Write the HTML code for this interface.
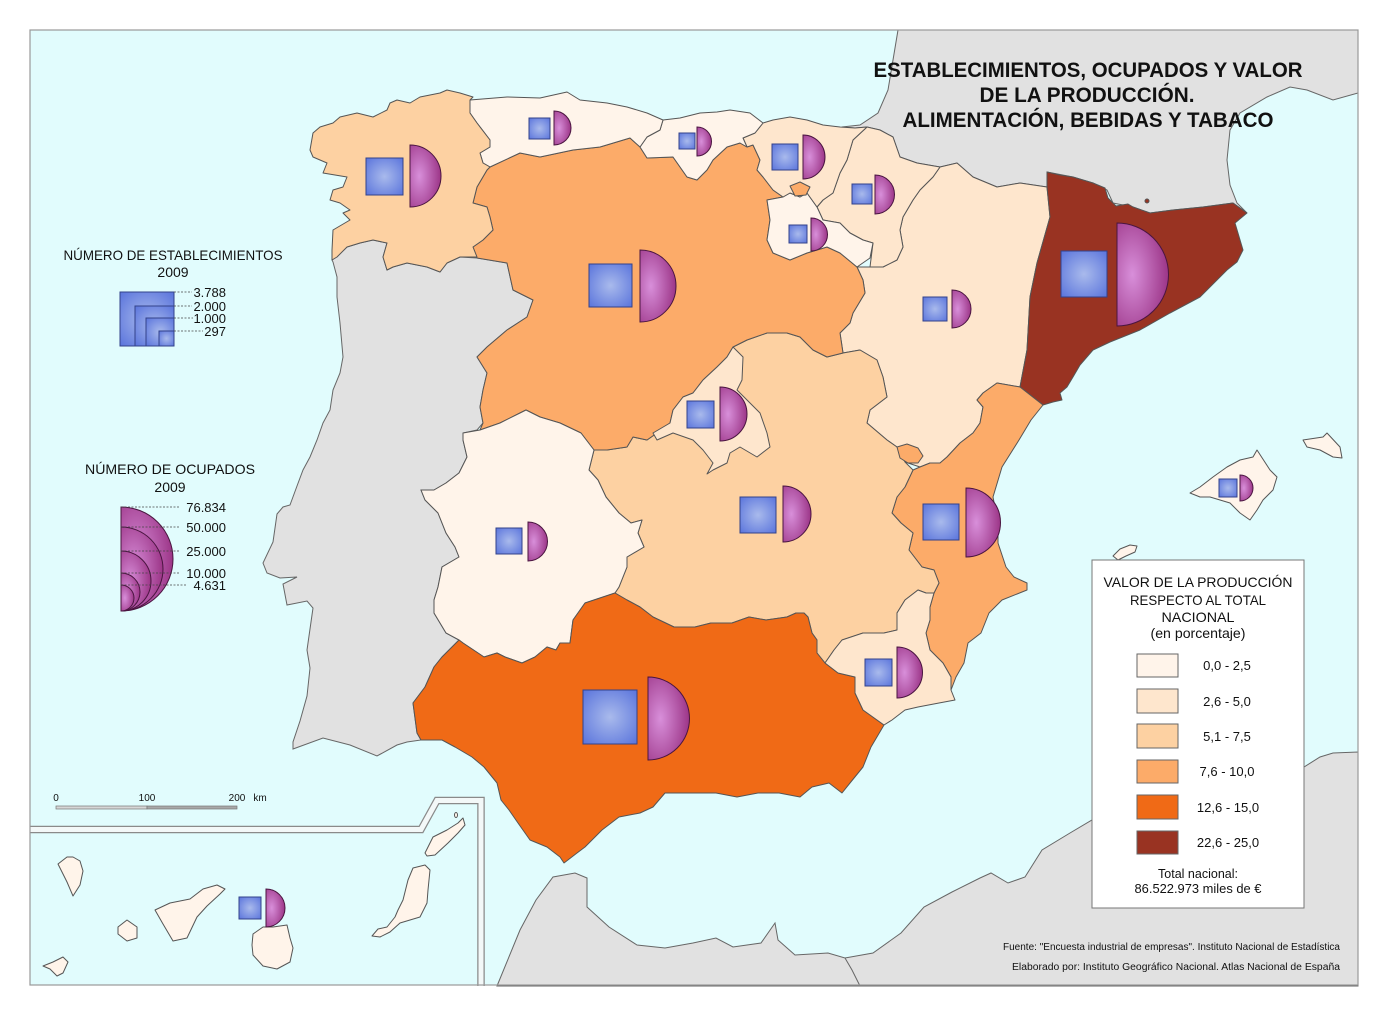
<!DOCTYPE html>
<html><head><meta charset="utf-8"><style>
html,body{margin:0;padding:0;background:#fff;}
svg{display:block;}
text{font-family:"Liberation Sans",sans-serif;fill:#111;}
</style></head><body>
<svg width="1388" height="1016" viewBox="0 0 1388 1016" xmlns="http://www.w3.org/2000/svg">
<defs>
<radialGradient id="sq" cx="0.5" cy="0.5" r="0.7"><stop offset="0" stop-color="#a9baec"/><stop offset="1" stop-color="#5a74dc"/></radialGradient>
<radialGradient id="hc" cx="0.3" cy="0.5" r="0.8"><stop offset="0" stop-color="#d88fda"/><stop offset="1" stop-color="#93287b"/></radialGradient>
</defs>
<rect x="0" y="0" width="1388" height="1016" fill="#fff"/>
<rect x="30" y="30" width="1328" height="955" fill="#e1fcfd"/>

<!-- gray lands -->
<g fill="#e1e1e1" stroke="#666" stroke-width="1">
<polygon points="898,30 893,60 888,90 878,113 860,125 842,127 855,128 867,127 880,130 893,137 900,157 917,163 940,167 957,163 973,177 997,187 1020,183 1047,187 1047,172 1073,177 1093,183 1107,190 1113,203 1133,207 1150,213 1173,210 1203,207 1233,203 1247,213 1237,203 1230,185 1227,160 1230,130 1240,113 1267,97 1290,87 1307,90 1333,100 1358,93 1358,30"/>
<polygon points="332,260 347,247 360,243 373,240 387,243 383,257 387,270 393,267 407,263 427,267 440,272 447,263 460,257 477,258 507,263 513,290 533,300 527,317 507,330 487,347 477,357 487,373 483,390 480,407 483,423 477,430 463,433 463,440 467,457 459,473 446,483 434,490 421,490 425,500 438,513 446,533 455,547 459,557 442,567 438,587 434,600 434,613 446,633 459,640 442,657 434,667 425,687 413,703 417,733 421,740 407,742 397,745 377,756 350,745 323,738 293,749 293,742 300,721 307,696 310,668 307,650 310,629 313,608 307,601 287,605 283,584 297,577 280,578 267,573 263,563 273,542 277,514 283,507 290,505 297,486 303,470 310,457 317,440 323,423 330,410 333,390 340,373 343,357 340,323 337,297 337,277 333,262"/>
<polygon points="497,986 520,930 536,900 553,877 575,873 587,878 587,907 609,927 637,945 665,948 693,943 716,938 733,947 761,943 775,923 778,940 795,955 828,953 845,958 873,953 901,933 924,907 952,892 980,878 991,873 1008,883 1025,877 1042,850 1070,833 1092,820 1150,800 1250,775 1304,767 1320,757 1333,753 1358,752 1358,986"/>
<polyline points="845,958 852,970 860,986" fill="none"/>
</g>

<!-- Spanish regions -->
<g stroke="#555" stroke-width="1" stroke-linejoin="round">
<!-- Aragon -->
<polygon fill="#fee6cd" points="940,167 957,163 973,177 997,187 1020,183 1047,187 1050,217 1037,263 1030,297 1027,350 1020,387 997,383 983,393 977,400 983,407 980,423 973,433 960,443 947,457 940,463 930,463 920,467 905,462 897,447 887,440 867,423 870,410 887,397 883,377 877,360 860,350 843,353 840,333 850,323 853,313 865,293 863,280 857,267 870,267 883,267 897,260 903,247 900,230 903,217 913,200 920,190 933,177"/>
<!-- Catalonia -->
<polygon fill="#993322" points="1047,172 1060,175 1073,177 1093,183 1105,188 1108,198 1116,206 1128,204 1133,207 1150,213 1173,210 1203,207 1233,203 1247,213 1235,223 1243,250 1237,262 1227,270 1200,297 1170,313 1140,330 1110,342 1093,350 1080,365 1073,377 1067,387 1060,393 1062,400 1053,402 1043,405 1020,387 1027,350 1030,297 1037,263 1050,217 1047,187"/>
<!-- Valencia -->
<polygon fill="#fcab69" points="1043,405 1020,387 997,383 983,393 977,400 983,407 980,423 973,433 960,443 947,457 940,463 930,463 920,467 913,470 905,487 897,497 892,513 901,523 913,533 909,550 922,567 934,570 939,583 934,593 930,607 930,620 926,633 930,650 943,663 951,677 951,690 956,677 964,663 968,643 981,633 989,613 1002,600 1027,590 1027,583 1014,577 1006,567 998,543 998,523 993,497 1002,467 1019,440 1031,420"/>
<!-- Castilla-La Mancha -->
<polygon fill="#fdd1a2" points="594,450 607,450 627,447 633,437 647,440 657,433 670,423 673,410 683,397 693,393 703,380 717,367 727,357 733,347 747,340 767,333 787,333 800,337 813,350 827,357 843,353 860,350 877,360 883,377 887,397 870,410 867,423 887,440 897,447 905,462 913,470 905,487 897,497 892,513 901,523 913,533 909,550 922,567 934,570 939,583 934,593 926,593 918,590 905,600 897,613 897,630 884,633 863,633 842,640 834,650 825,663 817,653 817,640 812,633 808,617 804,613 796,613 787,617 766,620 749,617 732,623 711,623 695,627 674,627 653,617 640,607 627,600 615,593 619,587 627,567 627,557 644,547 638,533 642,520 631,523 619,513 606,497 598,480 589,470"/>
<!-- Ademuz -->
<polygon fill="#fcab69" points="897,447 907,444 918,448 923,456 918,463 908,463 900,458"/>
<!-- Castilla y Leon -->
<polygon fill="#fcab69" points="630,138 640,147 647,158 673,157 687,177 697,180 707,170 713,160 727,147 740,143 747,147 753,145 760,160 757,170 763,177 773,190 783,197 767,200 770,220 767,240 773,253 790,260 807,253 827,247 840,253 857,267 863,280 865,293 853,313 850,323 840,333 843,353 827,357 813,350 800,337 787,333 767,333 747,340 733,347 727,357 717,367 703,380 693,393 683,397 673,410 670,423 657,433 647,440 633,437 627,447 607,450 594,450 581,433 560,423 540,417 526,410 520,413 500,423 480,430 483,423 480,407 483,390 487,373 477,357 487,347 507,330 527,317 533,300 513,290 507,263 477,258 473,247 483,240 493,230 490,217 487,207 473,203 477,187 487,170 490,167 520,153 540,157 573,150 600,147"/>
<!-- Navarra -->
<polygon fill="#fee6cd" points="867,127 880,130 893,137 900,157 917,163 940,167 933,177 920,190 913,200 903,217 900,230 903,247 897,260 883,267 870,267 873,243 863,240 850,233 840,223 823,220 817,207 823,200 833,193 840,173 847,160 853,140"/>
<!-- La Rioja -->
<polygon fill="#fff4ea" points="767,200 783,197 790,193 800,197 807,193 817,207 823,220 840,223 850,233 863,240 873,243 870,258 857,267 840,253 827,247 807,253 790,260 773,253 767,240 770,220"/>
<!-- Pais Vasco -->
<polygon fill="#fee6cd" points="763,123 773,120 790,117 807,120 823,125 840,127 855,128 867,127 853,140 847,160 840,173 833,193 823,200 817,207 807,193 800,197 790,193 783,197 773,190 763,177 757,170 760,160 753,145 747,147 743,138 755,133"/>
<polygon fill="#fcab69" points="790,186 800,182 810,187 806,195 795,196"/>
<!-- Cantabria -->
<polygon fill="#fff4ea" points="663,120 680,118 700,113 717,112 730,110 750,113 763,123 755,133 743,138 747,147 740,143 727,147 713,160 707,170 697,180 687,177 673,157 647,158 640,147 647,137 660,130"/>
<!-- Asturias -->
<polygon fill="#fff4ea" points="470,100 507,97 540,98 567,92 580,100 607,103 627,107 647,113 663,120 660,130 647,137 640,147 630,138 600,147 573,150 540,157 520,153 490,167 483,163 480,153 490,147 490,140 477,123 470,113"/>
<!-- Galicia -->
<polygon fill="#fdd1a2" points="447,90 460,93 473,97 470,100 470,113 477,123 490,140 490,147 480,153 483,163 490,167 487,170 477,187 473,203 487,207 490,217 493,230 483,240 473,247 477,257 460,257 447,263 440,272 427,267 407,263 393,267 387,270 383,257 387,243 373,240 360,243 347,247 337,257 332,260 332,250 333,230 350,220 343,213 350,210 340,203 330,200 333,190 343,187 347,177 323,173 327,163 313,157 310,150 313,133 320,127 333,123 340,117 357,113 373,117 387,110 390,103 397,100 410,103 420,97 440,93"/>
<!-- Madrid -->
<polygon fill="#fee6cd" points="733,347 743,357 742,380 737,390 747,400 760,413 767,433 770,447 757,457 740,447 730,453 727,463 713,470 707,474 713,463 703,450 693,440 673,433 657,440 653,433 670,423 673,410 683,397 693,393 703,380 717,367 727,357"/>
<!-- Extremadura -->
<polygon fill="#fff4ea" points="463,433 480,430 500,423 520,413 526,410 540,417 560,423 581,433 594,450 589,470 598,480 606,497 619,513 631,523 642,520 638,533 644,547 627,557 627,567 619,587 615,593 585,603 573,620 570,643 560,643 556,650 547,647 535,657 522,663 505,657 497,653 484,657 463,643 459,640 446,633 434,613 434,600 438,587 442,567 459,557 455,547 446,533 438,513 425,500 421,490 434,490 446,483 459,473 467,457 463,440"/>
<!-- Andalucia -->
<polygon fill="#f06a16" points="459,640 463,643 484,657 497,653 505,657 522,663 535,657 547,647 556,650 560,643 570,643 573,620 585,603 615,593 627,600 640,607 653,617 674,627 695,627 711,623 732,623 749,617 766,620 787,617 796,613 804,613 808,617 812,633 817,640 817,653 825,663 838,673 855,677 855,693 863,710 884,725 871,747 863,767 850,783 842,793 829,783 812,787 800,797 779,793 758,793 737,797 716,793 695,793 665,793 653,807 640,813 619,817 602,830 585,847 577,853 564,863 560,857 547,847 530,840 518,823 509,810 501,800 497,783 484,767 472,757 455,747 442,740 421,740 417,733 413,703 425,687 434,667 442,657"/>
<!-- Murcia -->
<polygon fill="#fee6cd" points="825,663 834,650 842,640 863,633 884,633 897,630 897,613 905,600 918,590 926,593 934,593 930,607 930,620 926,633 930,650 943,663 951,677 951,690 955,700 939,703 918,707 905,710 892,720 884,725 863,710 855,693 855,677 838,673"/>
<!-- Baleares -->
<polygon fill="#fff4ea" points="1190,493 1200,487 1213,477 1227,467 1240,460 1253,457 1257,450 1270,470 1277,477 1273,490 1263,500 1257,510 1250,520 1240,513 1230,503 1220,500 1210,497 1200,497"/>
<polygon fill="#fff4ea" points="1303,440 1323,437 1327,433 1340,447 1342,458 1333,457 1320,450 1307,447"/>
<polygon fill="#fff4ea" points="1113,556 1120,549 1130,545 1137,546 1135,552 1126,556 1118,560"/>
<circle cx="1147" cy="201" r="2" fill="#993322"/>
<!-- Canarias -->
<polygon fill="#fff4ea" points="58,864 67,857 73,857 80,861 83,871 80,885 73,896 67,882"/>
<polygon fill="#fff4ea" points="43,966 53,962 63,957 68,962 63,973 57,976 50,969"/>
<polygon fill="#fff4ea" points="118,927 127,920 137,927 137,938 127,941 118,934"/>
<polygon fill="#fff4ea" points="155,910 170,903 190,899 203,889 217,885 225,889 220,894 207,906 197,917 187,938 173,941 163,924"/>
<polygon fill="#fff4ea" points="253,934 263,927 273,927 287,925 290,938 293,948 290,962 277,969 263,966 253,955 252,945"/>
<polygon fill="#fff4ea" points="413,868 425,865 430,870 428,890 427,903 420,917 410,920 400,923 390,932 380,937 372,936 378,929 387,927 395,917 398,910 403,900 408,880"/>
<polygon fill="#fff4ea" points="425,853 433,837 447,830 458,823 463,818 465,825 458,833 448,843 435,855 427,856"/>
<ellipse cx="456" cy="815" rx="1.5" ry="2.5" fill="#fff4ea"/>
</g>

<!-- inset band -->
<path d="M30,829.5 L421,829.5 L437,800.5 L481,800.5 L481,986" fill="none" stroke="#8a8a8a" stroke-width="7.5"/>
<path d="M30,829.5 L421,829.5 L437,800.5 L481,800.5 L481,986" fill="none" stroke="#f3f8f8" stroke-width="5"/>

<!-- symbols -->
<g stroke="#33428a" stroke-width="1" fill="url(#sq)">
<rect x="366" y="158" width="37" height="37"/>
<rect x="529" y="118" width="21" height="21"/>
<rect x="679" y="133" width="16" height="16"/>
<rect x="772" y="144" width="26" height="26"/>
<rect x="852" y="184" width="20" height="20"/>
<rect x="789" y="225" width="18" height="18"/>
<rect x="589" y="264" width="43" height="43"/>
<rect x="687" y="401" width="27" height="27"/>
<rect x="923" y="297" width="24" height="24"/>
<rect x="1061" y="251" width="46" height="46"/>
<rect x="923" y="504" width="36" height="36"/>
<rect x="1219" y="479" width="18" height="18"/>
<rect x="740" y="497" width="36" height="36"/>
<rect x="496" y="528" width="26" height="26"/>
<rect x="583" y="690" width="54" height="54"/>
<rect x="865" y="659" width="27" height="27"/>
<rect x="239" y="897" width="22" height="22"/>
</g>
<g stroke="#4a1540" stroke-width="1" fill="url(#hc)">
<path d="M410,145 A31,31 0 0 1 410,207 Z"/>
<path d="M554,111 A17,17 0 0 1 554,145 Z"/>
<path d="M697,127 A14.5,14.5 0 0 1 697,156 Z"/>
<path d="M803,135 A22,22 0 0 1 803,179 Z"/>
<path d="M875,175 A19.5,19.5 0 0 1 875,214 Z"/>
<path d="M811,218 A16.5,16.5 0 0 1 811,251 Z"/>
<path d="M640,250 A36,36 0 0 1 640,322 Z"/>
<path d="M720,387 A27,27 0 0 1 720,441 Z"/>
<path d="M952,290 A19,19 0 0 1 952,328 Z"/>
<path d="M1117,223 A51.5,51.5 0 0 1 1117,326 Z"/>
<path d="M966,488 A34.5,34.5 0 0 1 966,557 Z"/>
<path d="M1240,475 A13,13 0 0 1 1240,501 Z"/>
<path d="M783,486 A28,28 0 0 1 783,542 Z"/>
<path d="M528,522 A19.5,19.5 0 0 1 528,561 Z"/>
<path d="M648,677 A41.5,41.5 0 0 1 648,760 Z"/>
<path d="M897,647 A25.5,25.5 0 0 1 897,698 Z"/>
<path d="M266,889 A19,19 0 0 1 266,927 Z"/>
</g>

<!-- title -->
<g font-weight="bold" font-size="21" text-anchor="middle">
<text x="1088" y="77" textLength="429" lengthAdjust="spacingAndGlyphs">ESTABLECIMIENTOS, OCUPADOS Y VALOR</text>
<text x="1087" y="102" textLength="215" lengthAdjust="spacingAndGlyphs">DE LA PRODUCCIÓN.</text>
<text x="1088" y="127" textLength="371" lengthAdjust="spacingAndGlyphs">ALIMENTACIÓN, BEBIDAS Y TABACO</text>
</g>

<!-- establecimientos legend -->
<text x="173" y="260" font-size="14" text-anchor="middle" textLength="219" lengthAdjust="spacingAndGlyphs">NÚMERO DE ESTABLECIMIENTOS</text>
<text x="173" y="277" font-size="14" text-anchor="middle">2009</text>
<g stroke="#33428a" stroke-width="1" fill="url(#sq)">
<rect x="120" y="292" width="54" height="54"/>
<rect x="135" y="306" width="39" height="40"/>
<rect x="146" y="318" width="28" height="28"/>
<rect x="159" y="331" width="15" height="15"/>
</g>
<g stroke="#444" stroke-width="0.8" stroke-dasharray="2,1.5">
<line x1="174" y1="292" x2="192" y2="292"/>
<line x1="174" y1="306" x2="192" y2="306"/>
<line x1="174" y1="318" x2="193" y2="318"/>
<line x1="174" y1="331" x2="203" y2="331"/>
</g>
<g font-size="13" text-anchor="end">
<text x="226" y="297">3.788</text>
<text x="226" y="311">2.000</text>
<text x="226" y="323">1.000</text>
<text x="226" y="336">297</text>
</g>

<!-- ocupados legend -->
<text x="170" y="474" font-size="14" text-anchor="middle" textLength="170" lengthAdjust="spacingAndGlyphs">NÚMERO DE OCUPADOS</text>
<text x="170" y="492" font-size="14" text-anchor="middle">2009</text>
<g stroke="#4a1540" stroke-width="1" fill="url(#hc)">
<path d="M121,507 A52,52 0 0 1 121,611 Z"/>
<path d="M121,527 A42,42 0 0 1 121,611 Z"/>
<path d="M121,551 A30,30 0 0 1 121,611 Z"/>
<path d="M121,573 A19,19 0 0 1 121,611 Z"/>
<path d="M121,585 A13,13 0 0 1 121,611 Z"/>
</g>
<g stroke="#444" stroke-width="0.8" stroke-dasharray="2,1.5">
<line x1="121" y1="507" x2="179" y2="507"/>
<line x1="121" y1="527" x2="179" y2="527"/>
<line x1="121" y1="551" x2="179" y2="551"/>
<line x1="121" y1="573" x2="179" y2="573"/>
<line x1="121" y1="585" x2="187" y2="585"/>
</g>
<g font-size="13" text-anchor="end">
<text x="226" y="512">76.834</text>
<text x="226" y="532">50.000</text>
<text x="226" y="556">25.000</text>
<text x="226" y="578">10.000</text>
<text x="226" y="590">4.631</text>
</g>

<!-- scale bar -->
<g font-size="10" text-anchor="middle">
<text x="56" y="801">0</text>
<text x="147" y="801">100</text>
<text x="237" y="801">200</text>
<text x="260" y="801">km</text>
</g>
<rect x="56" y="806" width="91" height="3" fill="#d6d6d6" stroke="#777" stroke-width="0.7"/>
<rect x="147" y="806" width="90" height="3" fill="#a8a8a8" stroke="#777" stroke-width="0.7"/>

<!-- value legend -->
<rect x="1092" y="560" width="212" height="348" fill="#fff" stroke="#777" stroke-width="1"/>
<g font-size="14" text-anchor="middle">
<text x="1198" y="587" textLength="189" lengthAdjust="spacingAndGlyphs">VALOR DE LA PRODUCCIÓN</text>
<text x="1198" y="605" textLength="136" lengthAdjust="spacingAndGlyphs">RESPECTO AL TOTAL</text>
<text x="1198" y="622" textLength="73" lengthAdjust="spacingAndGlyphs">NACIONAL</text>
<text x="1198" y="638" textLength="95" lengthAdjust="spacingAndGlyphs">(en porcentaje)</text>
</g>
<g stroke="#666" stroke-width="1">
<rect x="1137" y="654" width="41" height="23" fill="#fff4ea"/>
<rect x="1137" y="689" width="41" height="24" fill="#fee6cd"/>
<rect x="1137" y="724" width="41" height="24" fill="#fdd1a2"/>
<rect x="1137" y="760" width="41" height="23" fill="#fcab69"/>
<rect x="1137" y="795" width="41" height="24" fill="#f06a16"/>
<rect x="1137" y="831" width="41" height="23" fill="#993322"/>
</g>
<g font-size="13" text-anchor="middle">
<text x="1227" y="670">0,0 - 2,5</text>
<text x="1227" y="706">2,6 - 5,0</text>
<text x="1227" y="741">5,1 - 7,5</text>
<text x="1227" y="776">7,6 - 10,0</text>
<text x="1228" y="812">12,6 - 15,0</text>
<text x="1228" y="847">22,6 - 25,0</text>
<text x="1198" y="878" textLength="80" lengthAdjust="spacingAndGlyphs">Total nacional:</text>
<text x="1198" y="893" textLength="127" lengthAdjust="spacingAndGlyphs">86.522.973 miles de €</text>
</g>

<!-- sources -->
<g font-size="10" text-anchor="end">
<text x="1340" y="950" textLength="337" lengthAdjust="spacingAndGlyphs">Fuente: "Encuesta industrial de empresas". Instituto Nacional de Estadística</text>
<text x="1340" y="970" textLength="328" lengthAdjust="spacingAndGlyphs">Elaborado por: Instituto Geográfico Nacional. Atlas Nacional de España</text>
</g>

<rect x="30" y="30" width="1328" height="955" fill="none" stroke="#999" stroke-width="1.2"/>
</svg>
</body></html>
